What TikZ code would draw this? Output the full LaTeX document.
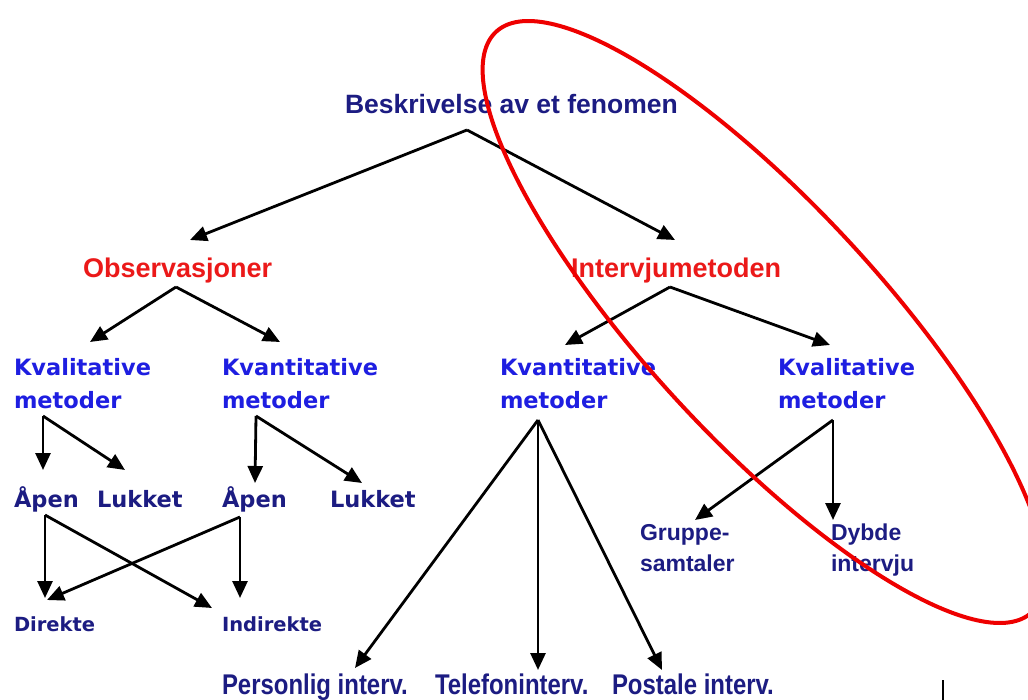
\documentclass[tikz,border=0pt]{standalone}
\usepackage{fontspec}
\setmainfont{Liberation Sans}
\newfontfamily\dvfont{DejaVu Sans}
\newfontfamily\narrowfont[FakeStretch=0.84]{Liberation Sans}
\usetikzlibrary{arrows.meta}
\definecolor{navy}{RGB}{28,28,130}
\definecolor{lblue}{RGB}{30,30,225}
\definecolor{lred}{RGB}{235,25,25}
\definecolor{ered}{RGB}{238,0,0}
\begin{document}
\begin{tikzpicture}[x=1pt,y=-1pt,
  lbl/.style={anchor=base west, inner sep=0pt, outer sep=0pt, align=left},
  toplbl/.style={lbl, text=navy, font=\fontsize{26.5}{30}\selectfont\bfseries},
  redlbl/.style={lbl, text=lred, font=\fontsize{27}{31}\selectfont\bfseries},
  bluelbl/.style={lbl, text=lblue, font=\dvfont\fontsize{22.5}{33}\selectfont\bfseries},
  oplbl/.style={lbl, text=navy, font=\dvfont\fontsize{22.5}{33}\selectfont\bfseries},
  smlbl/.style={lbl, text=navy, font=\dvfont\fontsize{19.5}{24}\selectfont\bfseries},
  arlbl/.style={lbl, text=navy, font=\fontsize{23}{31}\selectfont\bfseries},
  btlbl/.style={lbl, text=navy, font=\narrowfont\fontsize{28.5}{34}\selectfont\bfseries},
  arr/.style={line width=2.8pt, -{Triangle[length=17pt,width=15pt]}}
]
\useasboundingbox (0,0) rectangle (1028,700);
\fill[white] (0,0) rectangle (1028,700);

% texts
\node[toplbl] (besk) at (345,114) {Beskrivelse av et fenomen};
\node[redlbl] (obs) at (83,278) {Observasjoner};
\node[redlbl] (int) at (571,278) {Intervjumetoden};
\node[bluelbl] (kval1) at (14,409) {Kvalitative\\metoder};
\node[bluelbl] (kvant1) at (222,409) {Kvantitative\\metoder};
\node[bluelbl] (kvant2) at (500,409) {Kvantitative\\metoder};
\node[bluelbl] (kval2) at (778,409) {Kvalitative\\metoder};
\node[oplbl] (apen1) at (14,507) {Åpen};
\node[oplbl] (luk1) at (97,507) {Lukket};
\node[oplbl] (apen2) at (222,507) {Åpen};
\node[oplbl] (luk2) at (330,507) {Lukket};
\node[smlbl] (dir) at (14,631) {Direkte};
\node[smlbl] (indir) at (222,631) {Indirekte};
\node[arlbl] (grp) at (640,571) {Gruppe-\\samtaler};
\node[arlbl] (dyb) at (831,571) {Dybde\\intervju};
\node[btlbl] (pers) at (222,694) {Personlig interv.};
\node[btlbl] (tel) at (435,694) {Telefoninterv.};
\node[btlbl] (post) at (612,694) {Postale interv.};

% branch points and tips
\coordinate (bA) at (467,130);
\coordinate (bL) at (190,240);
\coordinate (bR) at (675,240);
\coordinate (oA) at (176,287);
\coordinate (oL) at (90,342);
\coordinate (oR) at (280,342);
\coordinate (iA) at (670,287);
\coordinate (iL) at (565,345);
\coordinate (iR) at (830,345);
\coordinate (k1A) at (43,416);
\coordinate (k1L) at (43,470);
\coordinate (k1R) at (125,470);
\coordinate (k2A) at (256,416);
\coordinate (k2L) at (255,483);
\coordinate (k2R) at (362,483);
\coordinate (a1A) at (45,515);
\coordinate (a1D) at (45,598);
\coordinate (a1I) at (212,608);
\coordinate (a2A) at (240,517);
\coordinate (a2I) at (240,598);
\coordinate (a2D) at (47,600);
\coordinate (k3A) at (538,420);
\coordinate (k3P) at (355,668);
\coordinate (k3T) at (538,670);
\coordinate (k3Q) at (662,670);
\coordinate (k4A) at (833,420);
\coordinate (k4D) at (833,520);
\coordinate (k4G) at (695,520);

% connectors
\draw[arr] (bA) -- (bL);
\draw[arr] (bA) -- (bR);
\draw[arr] (oA) -- (oL);
\draw[arr] (oA) -- (oR);
\draw[arr] (iA) -- (iL);
\draw[arr] (iA) -- (iR);
\draw[arr] (k1A) -- (k1L);
\draw[arr] (k1A) -- (k1R);
\draw[arr] (k2A) -- (k2L);
\draw[arr] (k2A) -- (k2R);
\draw[arr] (a1A) -- (a1D);
\draw[arr] (a1A) -- (a1I);
\draw[arr] (a2A) -- (a2I);
\draw[arr] (a2A) -- (a2D);
\draw[arr] (k3A) -- (k3P);
\draw[arr] (k3A) -- (k3T);
\draw[arr] (k3A) -- (k3Q);
\draw[arr] (k4A) -- (k4D);
\draw[arr] (k4A) -- (k4G);

% red ellipse
\draw[ered, line width=4pt, rotate around={-47.3:(764,322)}] (764,322) ellipse [x radius=395, y radius=117];

% small mark bottom right
\draw[line width=2pt] (943,680) -- (943,700);
\end{tikzpicture}
\end{document}
